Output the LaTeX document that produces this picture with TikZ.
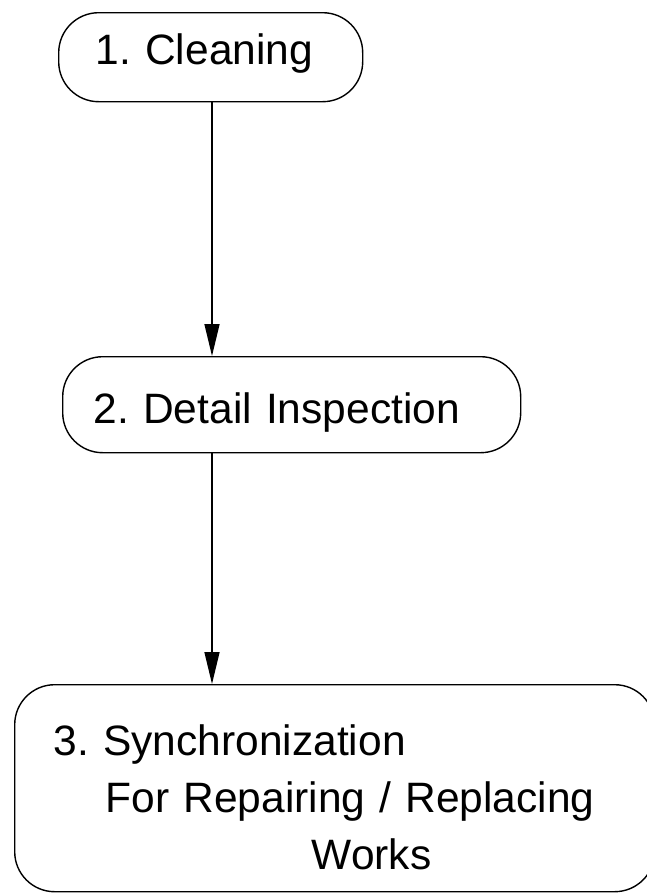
\documentclass[tikz,border=0pt]{standalone}
\usepackage{fontspec}
\setmainfont{Liberation Sans}
\usetikzlibrary{arrows.meta, positioning}
\tikzset{
  box/.style={
    rectangle, rounded corners=40pt, draw=black, line width=1.4pt,
    anchor=north west, inner ysep=0pt, align=left,
    font=\fontsize{42.5}{57}\selectfont
  },
  arrow/.style={-{Triangle[length=32pt, width=15pt]}, line width=1.5pt},
}
\frenchspacing

\begin{document}
\begin{tikzpicture}[x=1pt, y=-1pt]
  \useasboundingbox (0,0) rectangle (646,894);

  % Steps
  \node[box, text width=230pt, inner xsep=37pt, minimum height=89pt,
        text height=23pt] (clean)
    at (58,12) {1. Cleaning};
  \node[box, text width=396pt, inner xsep=31pt, minimum height=96pt,
        text height=46pt] (inspect)
    at (62,356) {2. Detail Inspection};
  \node[box, text width=562pt, inner xsep=39pt, minimum height=207pt,
        text height=48pt] (sync)
    at (14,684) {3. Synchronization\\
    \hspace*{52pt}For Repairing / Replacing\\
    \hspace*{258pt}Works};

  % Arrows
  \coordinate (axis) at (212,0);
  \draw[arrow] (clean.south -| axis)   -- (inspect.north -| axis);
  \draw[arrow] (inspect.south -| axis) -- (sync.north -| axis);

\end{tikzpicture}
\end{document}
